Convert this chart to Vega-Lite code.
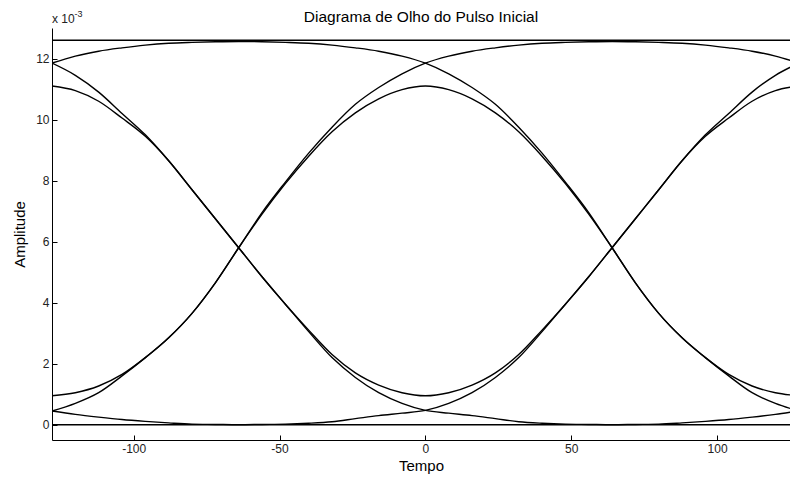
{
  "$schema": "https://vega.github.io/schema/vega-lite/v6.json",
  "width": 738,
  "height": 412,
  "autosize": {"type": "none"},
  "padding": {"left": 52, "top": 28, "right": 0, "bottom": 42},
  "background": "white",
  "title": {"text": "Diagrama de Olho do Pulso Inicial", "font": "Liberation Sans", "fontSize": 15.5, "fontWeight": "normal", "color": "black", "anchor": "middle", "offset": 5, "baseline": "bottom", "dy": 35},
  "config": {
    "view": {"stroke": null},
    "font": "Liberation Sans",
    "axis": {"grid": false, "domainColor": "black", "domainWidth": 1, "tickColor": "black", "tickWidth": 1, "labelColor": "#222222", "labelFont": "Liberation Sans", "labelFontSize": 12, "titleFont": "Liberation Sans", "titleFontSize": 15, "titleFontWeight": "normal", "titleColor": "black"}
  },
  "layer": [
    {
      "data": {"values": [
        {"curva":"topo","tempo":-128,"amp":0.0126},{"curva":"topo","tempo":128,"amp":0.0126},
        {"curva":"base","tempo":-128,"amp":0},{"curva":"base","tempo":128,"amp":0},
        {"curva":"C1","tempo":-128,"amp":0.00045},{"curva":"C1","tempo":-120,"amp":0.0007},{"curva":"C1","tempo":-112,"amp":0.00105},{"curva":"C1","tempo":-104,"amp":0.0016},{"curva":"C1","tempo":-96,"amp":0.0022},{"curva":"C1","tempo":-88,"amp":0.00285},{"curva":"C1","tempo":-80,"amp":0.00365},{"curva":"C1","tempo":-72,"amp":0.00465},{"curva":"C1","tempo":-64,"amp":0.0058},{"curva":"C1","tempo":-56,"amp":0.00695},{"curva":"C1","tempo":-48,"amp":0.00795},{"curva":"C1","tempo":-40,"amp":0.0089},{"curva":"C1","tempo":-32,"amp":0.00975},{"curva":"C1","tempo":-24,"amp":0.0105},{"curva":"C1","tempo":-16,"amp":0.01105},{"curva":"C1","tempo":-8,"amp":0.0115},{"curva":"C1","tempo":0,"amp":0.01185},{"curva":"C1","tempo":8,"amp":0.01208},{"curva":"C1","tempo":16,"amp":0.01224},{"curva":"C1","tempo":24,"amp":0.01235},{"curva":"C1","tempo":32,"amp":0.01244},{"curva":"C1","tempo":40,"amp":0.0125},{"curva":"C1","tempo":48,"amp":0.01253},{"curva":"C1","tempo":56,"amp":0.01255},{"curva":"C1","tempo":64,"amp":0.01256},{"curva":"C1","tempo":72,"amp":0.01255},{"curva":"C1","tempo":80,"amp":0.01253},{"curva":"C1","tempo":88,"amp":0.0125},{"curva":"C1","tempo":96,"amp":0.01244},{"curva":"C1","tempo":104,"amp":0.01235},{"curva":"C1","tempo":112,"amp":0.01224},{"curva":"C1","tempo":120,"amp":0.01208},{"curva":"C1","tempo":128,"amp":0.01185},
        {"curva":"D1","tempo":-128,"amp":0.01185},{"curva":"D1","tempo":-120,"amp":0.01208},{"curva":"D1","tempo":-112,"amp":0.01224},{"curva":"D1","tempo":-104,"amp":0.01235},{"curva":"D1","tempo":-96,"amp":0.01244},{"curva":"D1","tempo":-88,"amp":0.0125},{"curva":"D1","tempo":-80,"amp":0.01253},{"curva":"D1","tempo":-72,"amp":0.01255},{"curva":"D1","tempo":-64,"amp":0.01256},{"curva":"D1","tempo":-56,"amp":0.01255},{"curva":"D1","tempo":-48,"amp":0.01253},{"curva":"D1","tempo":-40,"amp":0.0125},{"curva":"D1","tempo":-32,"amp":0.01244},{"curva":"D1","tempo":-24,"amp":0.01235},{"curva":"D1","tempo":-16,"amp":0.01224},{"curva":"D1","tempo":-8,"amp":0.01208},{"curva":"D1","tempo":0,"amp":0.01185},{"curva":"D1","tempo":8,"amp":0.0115},{"curva":"D1","tempo":16,"amp":0.01105},{"curva":"D1","tempo":24,"amp":0.0105},{"curva":"D1","tempo":32,"amp":0.00975},{"curva":"D1","tempo":40,"amp":0.0089},{"curva":"D1","tempo":48,"amp":0.00795},{"curva":"D1","tempo":56,"amp":0.00695},{"curva":"D1","tempo":64,"amp":0.0058},{"curva":"D1","tempo":72,"amp":0.00465},{"curva":"D1","tempo":80,"amp":0.00365},{"curva":"D1","tempo":88,"amp":0.00285},{"curva":"D1","tempo":96,"amp":0.0022},{"curva":"D1","tempo":104,"amp":0.0016},{"curva":"D1","tempo":112,"amp":0.00105},{"curva":"D1","tempo":120,"amp":0.0007},{"curva":"D1","tempo":128,"amp":0.00045},
        {"curva":"E1","tempo":-128,"amp":0.01185},{"curva":"E1","tempo":-120,"amp":0.01145},{"curva":"E1","tempo":-112,"amp":0.0109},{"curva":"E1","tempo":-104,"amp":0.0102},{"curva":"E1","tempo":-96,"amp":0.0095},{"curva":"E1","tempo":-88,"amp":0.00865},{"curva":"E1","tempo":-80,"amp":0.0077},{"curva":"E1","tempo":-72,"amp":0.00675},{"curva":"E1","tempo":-64,"amp":0.0058},{"curva":"E1","tempo":-56,"amp":0.00485},{"curva":"E1","tempo":-48,"amp":0.00395},{"curva":"E1","tempo":-40,"amp":0.00305},{"curva":"E1","tempo":-32,"amp":0.0022},{"curva":"E1","tempo":-24,"amp":0.00155},{"curva":"E1","tempo":-16,"amp":0.00105},{"curva":"E1","tempo":-8,"amp":0.0007},{"curva":"E1","tempo":0,"amp":0.00047},{"curva":"E1","tempo":8,"amp":0.00038},{"curva":"E1","tempo":16,"amp":0.0003},{"curva":"E1","tempo":24,"amp":0.0002},{"curva":"E1","tempo":32,"amp":0.0001},{"curva":"E1","tempo":40,"amp":0.00005},{"curva":"E1","tempo":48,"amp":0.00002},{"curva":"E1","tempo":56,"amp":0.00001},{"curva":"E1","tempo":64,"amp":0},{"curva":"E1","tempo":72,"amp":0.00001},{"curva":"E1","tempo":80,"amp":0.00002},{"curva":"E1","tempo":88,"amp":0.00006},{"curva":"E1","tempo":96,"amp":0.00011},{"curva":"E1","tempo":104,"amp":0.00017},{"curva":"E1","tempo":112,"amp":0.00025},{"curva":"E1","tempo":120,"amp":0.00034},{"curva":"E1","tempo":128,"amp":0.00045},
        {"curva":"F1","tempo":-128,"amp":0.00045},{"curva":"F1","tempo":-120,"amp":0.00034},{"curva":"F1","tempo":-112,"amp":0.00025},{"curva":"F1","tempo":-104,"amp":0.00017},{"curva":"F1","tempo":-96,"amp":0.00011},{"curva":"F1","tempo":-88,"amp":0.00006},{"curva":"F1","tempo":-80,"amp":0.00002},{"curva":"F1","tempo":-72,"amp":0.00001},{"curva":"F1","tempo":-64,"amp":0},{"curva":"F1","tempo":-56,"amp":0.00001},{"curva":"F1","tempo":-48,"amp":0.00002},{"curva":"F1","tempo":-40,"amp":0.00005},{"curva":"F1","tempo":-32,"amp":0.0001},{"curva":"F1","tempo":-24,"amp":0.0002},{"curva":"F1","tempo":-16,"amp":0.0003},{"curva":"F1","tempo":-8,"amp":0.00038},{"curva":"F1","tempo":0,"amp":0.00047},{"curva":"F1","tempo":8,"amp":0.0007},{"curva":"F1","tempo":16,"amp":0.00105},{"curva":"F1","tempo":24,"amp":0.00155},{"curva":"F1","tempo":32,"amp":0.0022},{"curva":"F1","tempo":40,"amp":0.00305},{"curva":"F1","tempo":48,"amp":0.00395},{"curva":"F1","tempo":56,"amp":0.00485},{"curva":"F1","tempo":64,"amp":0.0058},{"curva":"F1","tempo":72,"amp":0.00675},{"curva":"F1","tempo":80,"amp":0.0077},{"curva":"F1","tempo":88,"amp":0.00865},{"curva":"F1","tempo":96,"amp":0.0095},{"curva":"F1","tempo":104,"amp":0.0102},{"curva":"F1","tempo":112,"amp":0.0109},{"curva":"F1","tempo":120,"amp":0.01145},{"curva":"F1","tempo":128,"amp":0.01185},
        {"curva":"A","tempo":-128,"amp":0.00095},{"curva":"A","tempo":-120,"amp":0.00105},{"curva":"A","tempo":-112,"amp":0.00127},{"curva":"A","tempo":-104,"amp":0.00165},{"curva":"A","tempo":-96,"amp":0.0022},{"curva":"A","tempo":-88,"amp":0.00285},{"curva":"A","tempo":-80,"amp":0.00365},{"curva":"A","tempo":-72,"amp":0.00465},{"curva":"A","tempo":-64,"amp":0.0058},{"curva":"A","tempo":-56,"amp":0.0069},{"curva":"A","tempo":-48,"amp":0.0079},{"curva":"A","tempo":-40,"amp":0.0088},{"curva":"A","tempo":-32,"amp":0.0096},{"curva":"A","tempo":-24,"amp":0.01022},{"curva":"A","tempo":-16,"amp":0.01068},{"curva":"A","tempo":-8,"amp":0.01098},{"curva":"A","tempo":0,"amp":0.0111},{"curva":"A","tempo":8,"amp":0.01098},{"curva":"A","tempo":16,"amp":0.01068},{"curva":"A","tempo":24,"amp":0.01022},{"curva":"A","tempo":32,"amp":0.0096},{"curva":"A","tempo":40,"amp":0.0088},{"curva":"A","tempo":48,"amp":0.0079},{"curva":"A","tempo":56,"amp":0.0069},{"curva":"A","tempo":64,"amp":0.0058},{"curva":"A","tempo":72,"amp":0.00465},{"curva":"A","tempo":80,"amp":0.00365},{"curva":"A","tempo":88,"amp":0.00285},{"curva":"A","tempo":96,"amp":0.0022},{"curva":"A","tempo":104,"amp":0.00165},{"curva":"A","tempo":112,"amp":0.00127},{"curva":"A","tempo":120,"amp":0.00105},{"curva":"A","tempo":128,"amp":0.00095},
        {"curva":"V","tempo":-128,"amp":0.0111},{"curva":"V","tempo":-120,"amp":0.01095},{"curva":"V","tempo":-112,"amp":0.0106},{"curva":"V","tempo":-104,"amp":0.01005},{"curva":"V","tempo":-96,"amp":0.00945},{"curva":"V","tempo":-88,"amp":0.00865},{"curva":"V","tempo":-80,"amp":0.0077},{"curva":"V","tempo":-72,"amp":0.00675},{"curva":"V","tempo":-64,"amp":0.0058},{"curva":"V","tempo":-56,"amp":0.00485},{"curva":"V","tempo":-48,"amp":0.00395},{"curva":"V","tempo":-40,"amp":0.0031},{"curva":"V","tempo":-32,"amp":0.0023},{"curva":"V","tempo":-24,"amp":0.0017},{"curva":"V","tempo":-16,"amp":0.0013},{"curva":"V","tempo":-8,"amp":0.00105},{"curva":"V","tempo":0,"amp":0.00095},{"curva":"V","tempo":8,"amp":0.00105},{"curva":"V","tempo":16,"amp":0.0013},{"curva":"V","tempo":24,"amp":0.0017},{"curva":"V","tempo":32,"amp":0.0023},{"curva":"V","tempo":40,"amp":0.0031},{"curva":"V","tempo":48,"amp":0.00395},{"curva":"V","tempo":56,"amp":0.00485},{"curva":"V","tempo":64,"amp":0.0058},{"curva":"V","tempo":72,"amp":0.00675},{"curva":"V","tempo":80,"amp":0.0077},{"curva":"V","tempo":88,"amp":0.00865},{"curva":"V","tempo":96,"amp":0.00945},{"curva":"V","tempo":104,"amp":0.01005},{"curva":"V","tempo":112,"amp":0.0106},{"curva":"V","tempo":120,"amp":0.01095},{"curva":"V","tempo":128,"amp":0.0111}
      ]},
      "mark": {"type": "line", "interpolate": "monotone", "color": "black", "strokeWidth": 1.4, "clip": true},
      "encoding": {
        "x": {"field": "tempo", "type": "quantitative", "scale": {"domain": [-128, 125], "nice": false, "zero": false},
              "axis": {"title": "Tempo", "values": [-100, -50, 0, 50, 100], "labelExpr": "'' + datum.value", "tickSize": -5, "labelPadding": 8, "titlePadding": 4, "labelFlush": false}},
        "y": {"field": "amp", "type": "quantitative", "scale": {"domain": [-0.0005, 0.013], "nice": false, "zero": false},
              "axis": {"title": "Amplitude", "values": [0, 0.002, 0.004, 0.006, 0.008, 0.01, 0.012], "labelExpr": "'' + round(datum.value*1000)", "tickSize": -5, "labelPadding": 8, "titlePadding": 8, "labelFlush": false}},
        "detail": {"field": "curva", "type": "nominal"}
      }
    },
    {
      "data": {"values": [{}]},
      "mark": {"type": "text", "text": "x 10", "align": "left", "baseline": "alphabetic", "font": "Liberation Sans", "fontSize": 12, "color": "#222222", "dy": -5},
      "encoding": {"x": {"datum": -128}, "y": {"datum": 0.013}}
    },
    {
      "data": {"values": [{}]},
      "mark": {"type": "text", "text": "-3", "align": "left", "baseline": "alphabetic", "font": "Liberation Sans", "fontSize": 9, "color": "#222222", "dx": 22.5, "dy": -11},
      "encoding": {"x": {"datum": -128}, "y": {"datum": 0.013}}
    }
  ]
}
